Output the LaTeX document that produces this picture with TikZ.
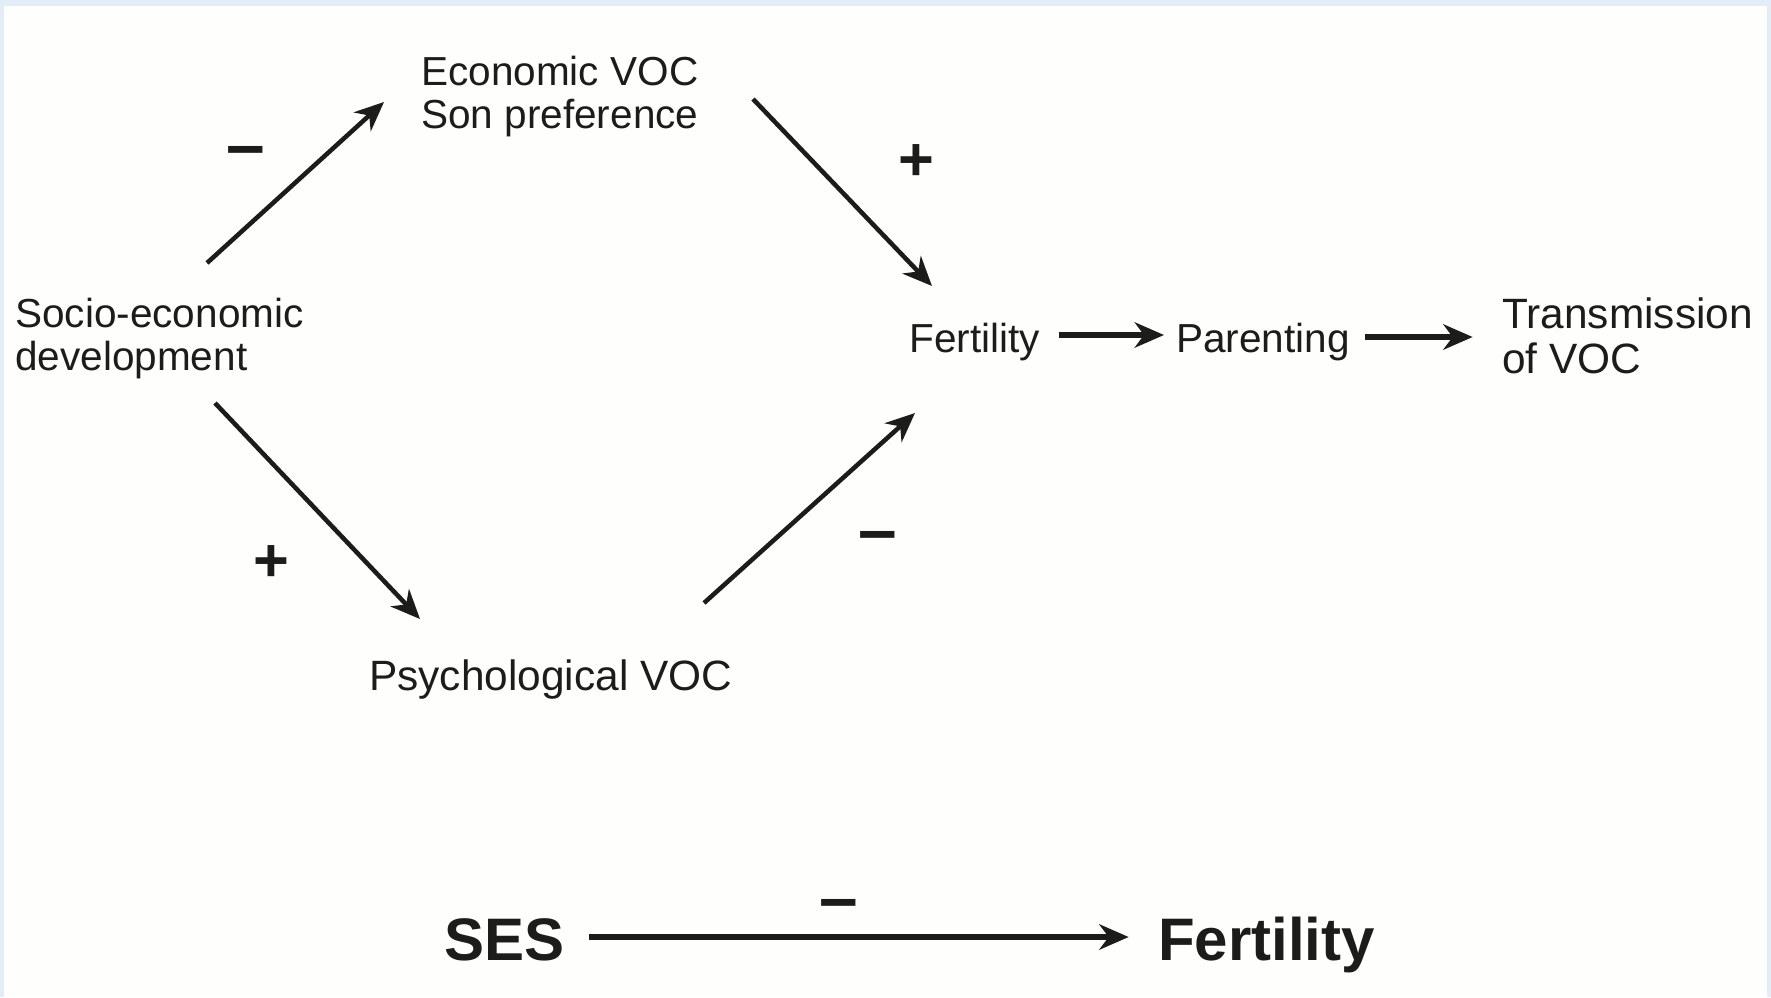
\documentclass[tikz,border=0pt]{standalone}
\usepackage{fontspec}
\setmainfont{Liberation Sans}
\usetikzlibrary{arrows.meta}

\definecolor{framebg}{HTML}{E2EDF8}
\definecolor{paper}{HTML}{FEFEFC}
\definecolor{ink}{HTML}{1C1C1A}

\tikzset{
  lbl/.style={inner sep=0pt, text=ink, font=\fontsize{30.4}{32.3}\selectfont},
  widelbl/.style={lbl, font=\fontsize{31.8}{33.7}\selectfont},
  biglbl/.style={inner sep=0pt, text=ink, font=\fontsize{45}{48}\selectfont\bfseries},
  sign/.style={inner sep=0pt, text=ink, font=\fontsize{46}{48}\selectfont\bfseries},
  minus/.style={sign, font=\fontsize{52}{54}\selectfont\bfseries},
  link/.style={draw=ink, line width=3.4pt,
    -{Stealth[length=22pt,width=19pt,inset=7pt]}},
  flow/.style={link, line width=4.2pt},
}

\begin{document}
\begin{tikzpicture}[x=0.75pt,y=-0.75pt]
  % page with a pale blue frame on top and sides
  \useasboundingbox (0,0) rectangle (1771,997);
  \fill[framebg] (0,0) rectangle (1771,997);
  \fill[paper] (4,6) rectangle (1767,997);

  % labels
  \node[lbl, align=left, anchor=west] (econ) at (421,96.3) {Economic VOC\\Son preference};
  \node[lbl, align=left, anchor=west] (socio) at (15,338.3) {Socio-economic\\development};
  \node[lbl, anchor=base west] (fert) at (909,352.5) {Fertility};
  \node[lbl, anchor=base west] (par) at (1176,352.5) {Parenting};
  \node[widelbl, align=left, anchor=west] (trans) at (1502,336) {Transmission\\of VOC};
  \node[widelbl, anchor=base west] (psych) at (369,690) {Psychological VOC};
  \node[biglbl, anchor=base west] (ses) at (444,960.5) {SES};
  \node[biglbl, anchor=base west] (fert2) at (1158,960.5) {Fertility};

  % arrow end points
  \coordinate (s1) at (207,263);  \coordinate (e1) at (384,102);
  \coordinate (s2) at (753,99);   \coordinate (e2) at (932,286);
  \coordinate (s3) at (215,403);  \coordinate (e3) at (420,619);
  \coordinate (s4) at (704,603);  \coordinate (e4) at (915,413);

  % paths of influence
  \draw[link] (s1) -- (e1);
  \draw[link] (s2) -- (e2);
  \draw[link] (s3) -- (e3);
  \draw[link] (s4) -- (e4);
  \draw[flow] ([xshift=14pt]fert.east |- 0,335) -- ([xshift=-9pt]par.west |- 0,335);
  \draw[flow] ([xshift=11pt]par.east |- 0,337) -- ([xshift=-22pt]trans.west |- 0,337);
  \draw[flow, line width=3.8pt] ([xshift=18pt]ses.east |- 0,937) -- ([xshift=-22pt]fert2.west |- 0,937);

  % signs of the effects
  \node[minus] (m1) at (246,157) {–};
  \node[sign] (p2) at (916,163) {+};
  \node[sign] (p3) at (271,564) {+};
  \node[minus] (m4) at (878,542) {–};
  \node[minus] (m5) at (839,910) {–};
\end{tikzpicture}
\end{document}
